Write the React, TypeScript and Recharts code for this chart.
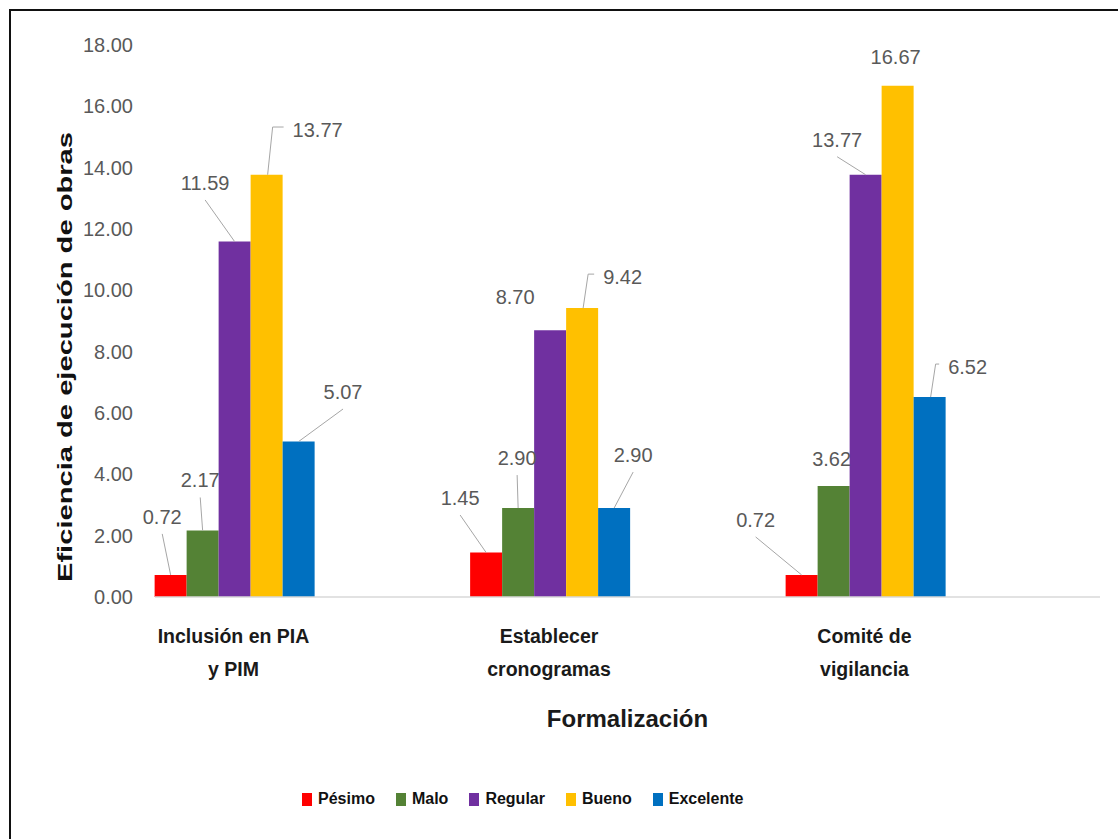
import React from 'react';
import { BarChart, Bar, XAxis, YAxis, Legend, LabelList, Label } from 'recharts';

const categories = ['Inclusión en PIA\ny PIM', 'Establecer\ncronogramas', 'Comité de\nvigilancia'];
const seriesNames = ['Pésimo', 'Malo', 'Regular', 'Bueno', 'Excelente'];
const pesimo = [0.72, 1.45, 0.72];
const malo = [2.17, 2.9, 3.62];
const regular = [11.59, 8.7, 13.77];
const bueno = [13.77, 9.42, 16.67];
const excelente = [5.07, 2.9, 6.52];
const yTicks = [0, 2, 4, 6, 8, 10, 12, 14, 16, 18];

const seriesValues = [pesimo, malo, regular, bueno, excelente];
const seriesKeys = ['pesimo', 'malo', 'regular', 'bueno', 'excelente'];
const colors = ['#FF0000', '#548235', '#7030A0', '#FFC000', '#0070C0'];

// where each data label sits, relative to the top centre of its bar:
// [dx, dy, leader] with leader 0 = none, 1 = straight, 2 = elbow
const labelPlacement = [
  [[-8.4, -58, 1], [-26, -54.5, 1], [-46, -55, 1]],
  [[-2.4, -50, 1], [-1, -50, 1], [-2, -27, 0]],
  [[-29.5, -58.6, 1], [-35, -33, 0], [-28.5, -35, 1]],
  [[51, -44.7, 2], [40.5, -31, 2], [-2, -29, 0]],
  [[44.4, -49.5, 1], [19, -53, 1], [38, -30, 2]],
];

const FONT = "'Liberation Sans', Arial, sans-serif";

const data = categories.map((c, i) => {
  const row: Record<string, string | number> = { category: c };
  seriesKeys.forEach((k, s) => {
    row[k] = seriesValues[s][i];
  });
  return row;
});

const makeLabel = (s: number) => (props: any) => {
  const { x, y, width, value, index } = props;
  const cx = Number(x) + Number(width) / 2;
  const top = Number(y);
  const [dx, dy, leader] = labelPlacement[s][index];
  const lx = cx + dx;
  const ly = top + dy;
  const txt = Number(value).toFixed(2);
  const hw = ((txt.length - 1) * 11.12 + 5.56) / 2;
  let path = '';
  if (leader === 1) path = `M${cx},${top} L${lx},${ly + 17}`;
  if (leader === 2) path = `M${cx + 1},${top} L${cx + 6},${ly - 3} L${lx - hw - 9},${ly - 3}`;
  return (
    <g>
      {path && <path d={path} stroke="#a6a6a6" strokeWidth={1} fill="none" />}
      <text
        x={lx}
        y={ly}
        textAnchor="middle"
        dominantBaseline="central"
        fill="#595959"
        fontSize={20}
        fontFamily={FONT}
      >
        {txt}
      </text>
    </g>
  );
};

const CategoryTick = (props: any) => {
  const { x, y, payload } = props;
  const lines = String(payload.value).split('\n');
  return (
    <text textAnchor="middle" fill="#1a1a1a" fontSize={19.5} fontWeight="bold" fontFamily={FONT}>
      {lines.map((l, i) => (
        <tspan key={i} x={x} y={y + 46 + i * 33}>
          {l}
        </tspan>
      ))}
    </text>
  );
};

const LegendContent = () => (
  <div
    style={{
      height: 40,
      display: 'flex',
      alignItems: 'center',
      paddingLeft: 302,
      fontFamily: FONT,
      fontSize: 16,
      fontWeight: 'bold',
      color: '#111',
    }}
  >
    {seriesNames.map((n, i) => (
      <span key={n} style={{ display: 'flex', alignItems: 'center', marginRight: 21 }}>
        <span style={{ width: 10, height: 13, background: colors[i], marginRight: 6 }} />
        {n}
      </span>
    ))}
  </div>
);

export default function App() {
  return (
    <div style={{ position: 'absolute', left: 0, top: 0, width: 1118, height: 839, background: '#fff' }}>
      <div
        style={{
          position: 'absolute',
          left: 9,
          top: 9,
          right: 0,
          bottom: 0,
          borderTop: '2px solid #111',
          borderLeft: '2px solid #111',
        }}
      />
      <div style={{ position: 'absolute', left: 0, top: 0 }}>
        <BarChart
          width={1118}
          height={839}
          data={data}
          margin={{ top: 45, right: 18, left: 0, bottom: 20 }}
          barCategoryGap="25%"
          barGap={0}
        >
          <XAxis
            dataKey="category"
            height={182}
            padding={{ left: -79.25, right: 77.75 }}
            axisLine={{ stroke: '#d9d9d9', strokeWidth: 1.5 }}
            tickLine={false}
            tickSize={0}
            tickMargin={0}
            tick={<CategoryTick />}
            interval={0}
          >
            <Label
              content={(p: any) => {
                const vb = p.viewBox || {};
                return (
                  <text
                    x={vb.x + vb.width / 2}
                    y={vb.y + 130}
                    textAnchor="middle"
                    fill="#1a1a1a"
                    fontSize={24}
                    fontWeight="bold"
                    fontFamily={FONT}
                  >
                    Formalización
                  </text>
                );
              }}
            />
          </XAxis>
          <YAxis
            width={155}
            domain={[0, 18]}
            ticks={yTicks}
            interval={0}
            axisLine={false}
            tickLine={false}
            tickSize={6}
            tickMargin={16}
            tickFormatter={(v: number) => v.toFixed(2)}
            tick={{ fill: '#595959', fontSize: 20, fontFamily: FONT }}
          >
            <Label
              content={(p: any) => {
                const vb = p.viewBox || {};
                const cy = vb.y + vb.height / 2 + 36;
                return (
                  <text
                    x={72}
                    y={cy}
                    transform={`rotate(-90, 72, ${cy})`}
                    textAnchor="middle"
                    fill="#111"
                    fontSize={20}
                    fontWeight="bold"
                    fontFamily={FONT}
                    textLength={450}
                    lengthAdjust="spacingAndGlyphs"
                  >
                    Eficiencia de ejecución de obras
                  </text>
                );
              }}
            />
          </YAxis>
          <Legend verticalAlign="bottom" content={<LegendContent />} />
          {seriesKeys.map((k, s) => (
            <Bar key={k} dataKey={k} name={seriesNames[s]} fill={colors[s]} isAnimationActive={false}>
              <LabelList dataKey={k} content={makeLabel(s)} />
            </Bar>
          ))}
        </BarChart>
      </div>
    </div>
  );
}
